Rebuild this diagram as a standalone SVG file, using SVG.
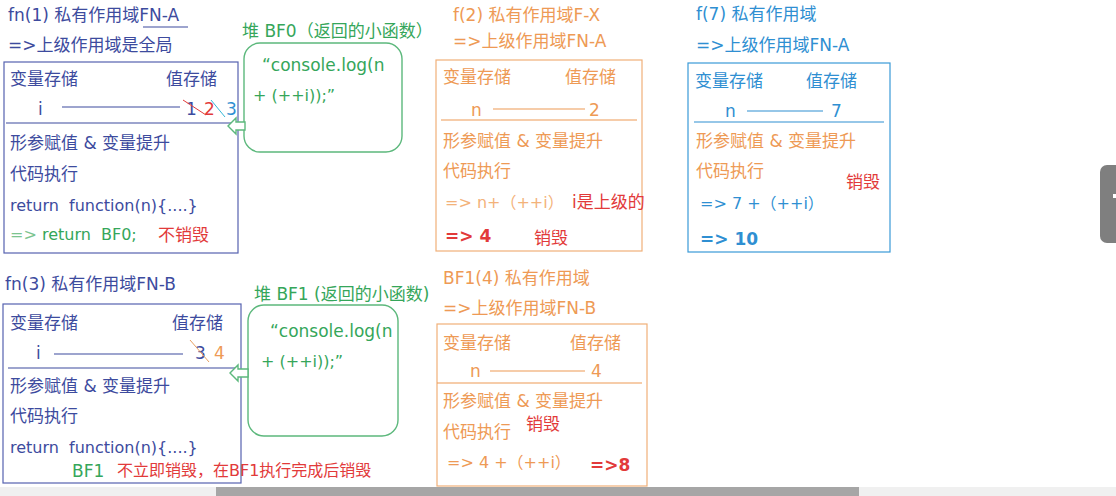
<svg xmlns="http://www.w3.org/2000/svg" width="1116" height="496" viewBox="0 0 1116 496">
<style>
text{font-family:"DejaVu Sans","Noto Sans CJK SC",sans-serif;font-size:17px;white-space:pre}
.nv{fill:#3d4b9e}
.or{fill:#ee9a55}
.lo{fill:#f3b27a}
.bl{fill:#2f8fd2}
.gr{fill:#35a65a}
.lg{fill:#7cc48f}
.rd{fill:#e23a3a}
.b{font-weight:bold}
.s16{font-size:16px}
.boxN{fill:none;stroke:#5562b0;stroke-width:1.2}
.boxO{fill:none;stroke:#f0b078;stroke-width:1.2}
.boxB{fill:none;stroke:#3a9ad8;stroke-width:1.2}
.boxG{fill:none;stroke:#5cb87c;stroke-width:1.4}
.lnN{stroke:#3d4b9e;stroke-width:1.2}
.lnO{stroke:#ee9a55;stroke-width:1.2}
.lnB{stroke:#2f8fd2;stroke-width:1.2}
.arr{fill:#fff;stroke:#5cb87c;stroke-width:1.4}
</style>
<rect width="1116" height="496" fill="#fff"/>

<g id="fn1">
<text x="8" y="21" class="nv">fn(1) 私有作用域FN-A</text>
<line x1="143" y1="27" x2="188" y2="27" class="lnN"/>
<text x="8" y="51" class="nv">=&gt;上级作用域是全局</text>
<rect x="4" y="62" width="234" height="191" class="boxN"/>
<text x="10" y="85" class="nv">变量存储</text>
<text x="166" y="85" class="nv">值存储</text>
<text x="38" y="115" class="nv">i</text>
<line x1="62" y1="107" x2="180" y2="107" class="lnN"/>
<text x="186" y="115" class="nv">1</text>
<text x="204" y="115" class="rd">2</text>
<text x="226" y="115" class="bl">3</text>
<line x1="183" y1="100" x2="206" y2="115" stroke="#e23a3a" stroke-width="1"/>
<line x1="211" y1="100" x2="225" y2="117" stroke="#35b8d8" stroke-width="1"/>
<line x1="6" y1="123" x2="237" y2="123" class="lnN"/>
<text x="10" y="149" class="nv">形参赋值 &amp; 变量提升</text>
<text x="10" y="180" class="nv">代码执行</text>
<text x="10" y="211" class="nv s16">return&#160;&#160;function(n){....}</text>
<text x="10" y="240" class="gr s16"><tspan class="lg">=&gt;&#160;</tspan>return&#160;&#160;BF0;</text>
<text x="158" y="241" class="rd">不销毁</text>
</g>

<g id="bf0">
<text x="242" y="37" class="gr">堆 BF0（返回的小函数）</text>
<rect x="244" y="43" width="158" height="109" rx="16" class="boxG"/>
<text x="262" y="71" class="gr">“console.log(n</text>
<text x="253" y="101" class="gr s16">+ (++i));”</text>
</g>

<g id="f2">
<text x="453" y="21" class="or">f(2) 私有作用域F-X</text>
<text x="453" y="47" class="or">=&gt;上级作用域FN-A</text>
<rect x="436" y="60" width="206" height="191" class="boxO"/>
<text x="443" y="83" class="or">变量存储</text>
<text x="565" y="83" class="or">值存储</text>
<text x="471" y="116" class="or">n</text>
<line x1="493" y1="109" x2="585" y2="109" class="lnO"/>
<text x="589" y="116" class="or">2</text>
<line x1="441" y1="120" x2="637" y2="120" class="lnO"/>
<text x="443" y="147" class="or">形参赋值 &amp; 变量提升</text>
<text x="443" y="177" class="or">代码执行</text>
<text x="445" y="208" class="lo s16">=&gt;&#160;n+（++i）</text>
<text x="572" y="208" class="rd">i是上级的</text>
<text x="445" y="242" class="rd b">=&gt; 4</text>
<text x="534" y="244" class="rd">销毁</text>
</g>

<g id="f7">
<text x="696" y="20" class="bl">f(7) 私有作用域</text>
<text x="696" y="51" class="bl">=&gt;上级作用域FN-A</text>
<rect x="688" y="63" width="202" height="189" class="boxB"/>
<text x="695" y="87" class="bl">变量存储</text>
<text x="806" y="87" class="bl">值存储</text>
<text x="725" y="117" class="bl">n</text>
<line x1="747" y1="111" x2="823" y2="111" class="lnB"/>
<text x="831" y="117" class="bl">7</text>
<line x1="694" y1="122" x2="884" y2="122" class="lnB"/>
<text x="696" y="147" class="or">形参赋值 &amp; 变量提升</text>
<text x="696" y="177" class="or">代码执行</text>
<text x="846" y="188" class="rd">销毁</text>
<text x="700" y="209" class="bl s16">=&gt;&#160;7 +（++i）</text>
<text x="700" y="245" class="bl b">=&gt; 10</text>
</g>

<g id="fn3">
<text x="5" y="290" class="nv">fn(3) 私有作用域FN-B</text>
<rect x="3" y="304" width="238" height="179" class="boxN"/>
<text x="10" y="329" class="nv">变量存储</text>
<text x="172" y="329" class="nv">值存储</text>
<text x="36" y="359" class="nv">i</text>
<line x1="54" y1="354" x2="183" y2="354" class="lnN"/>
<text x="195" y="359" class="nv">3</text>
<text x="214" y="359" class="or">4</text>
<line x1="190" y1="340" x2="209" y2="362" stroke="#e8a060" stroke-width="1"/>
<line x1="8" y1="368" x2="236" y2="368" class="lnN"/>
<text x="10" y="392" class="nv">形参赋值 &amp; 变量提升</text>
<text x="10" y="422" class="nv">代码执行</text>
<text x="10" y="453" class="nv s16">return&#160;&#160;function(n){....}</text>
<text x="72" y="477" class="gr">BF1</text>
<text x="117" y="476" class="rd s16">不立即销毁，在BF1执行完成后销毁</text>
</g>

<g id="bf1">
<text x="254" y="300" class="gr">堆 BF1 (返回的小函数)</text>
<rect x="248" y="305" width="150" height="131" rx="16" class="boxG"/>
<text x="270" y="337" class="gr">“console.log(n</text>
<text x="261" y="367" class="gr s16">+ (++i));”</text>
</g>

<g id="bf1-4">
<text x="443" y="284" class="or">BF1(4) 私有作用域</text>
<text x="443" y="314" class="or">=&gt;上级作用域FN-B</text>
<rect x="437" y="324" width="210" height="162" class="boxO"/>
<text x="443" y="349" class="or">变量存储</text>
<text x="570" y="349" class="or">值存储</text>
<text x="470" y="377" class="or">n</text>
<line x1="490" y1="371" x2="585" y2="371" class="lnO"/>
<text x="591" y="377" class="or">4</text>
<line x1="437" y1="383" x2="642" y2="383" class="lnO"/>
<text x="443" y="407" class="or">形参赋值 &amp; 变量提升</text>
<text x="443" y="438" class="or">代码执行</text>
<text x="526" y="430" class="rd">销毁</text>
<text x="447" y="468" class="or s16">=&gt;&#160;4 +（++i）</text>
<text x="590" y="471" class="rd b">=&gt;8</text>
</g>

<g id="connectors">
<polygon points="228,126 236,118 236,122 245,122 245,130 236,130 236,134" class="arr"/>
<polygon points="230,373 238,365 238,369 248,369 248,377 238,377 238,381" class="arr"/>
</g>

<rect x="0" y="487" width="1116" height="9" fill="#f0f0f0"/>
<rect x="216" y="487" width="643" height="9" fill="#a6a6a6"/>
<rect x="1100" y="165" width="24" height="78" rx="7" fill="#7f7f7f"/>
<rect x="1113" y="194" width="3" height="4" fill="#fff"/>
</svg>
